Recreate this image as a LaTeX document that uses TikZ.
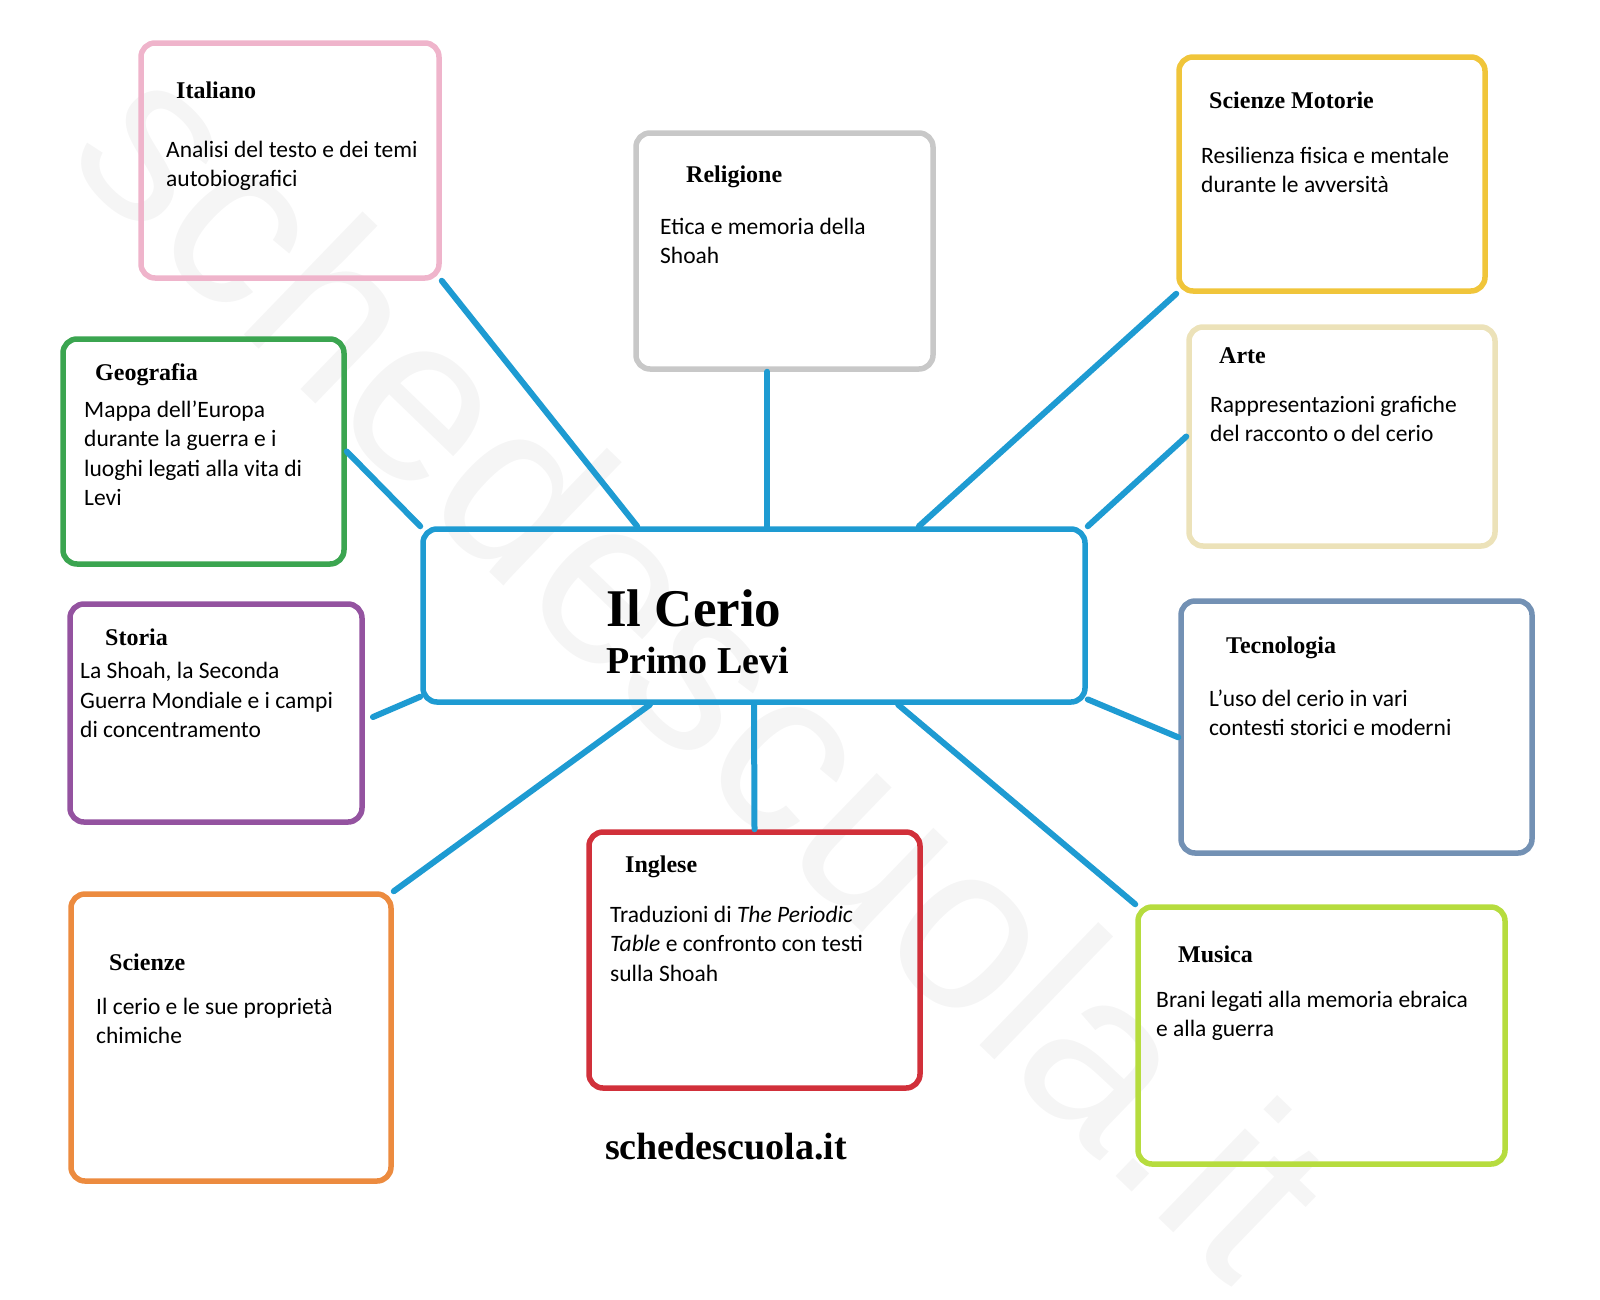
\documentclass[tikz,border=0pt]{standalone}
\usepackage{fontspec}
\setmainfont{Liberation Serif}
\newfontfamily\bodyfont{Carlito}
\newfontfamily\wmfont{Liberation Sans}
\usetikzlibrary{calc}

\definecolor{linkblue}{HTML}{1E9BD2}
\definecolor{pinkc}{HTML}{EFB4CB}
\definecolor{grayc}{HTML}{C8C8C8}
\definecolor{goldc}{HTML}{F0C53A}
\definecolor{greenc}{HTML}{3BA550}
\definecolor{creamc}{HTML}{ECE2B9}
\definecolor{purplec}{HTML}{9453A0}
\definecolor{slatec}{HTML}{7391B4}
\definecolor{orangec}{HTML}{EC8B3F}
\definecolor{redc}{HTML}{D1303A}
\definecolor{limec}{HTML}{B6DC3E}

\tikzset{
	box/.style={rectangle, rounded corners=14pt, line width=5.5pt, draw=#1},
	head/.style={anchor=base west, inner sep=0pt, font=\fontsize{24}{28}\selectfont\bfseries},
	body/.style={anchor=base west, inner sep=0pt, align=left, font=\bodyfont\fontsize{23.5}{29.6}\selectfont},
	link/.style={draw=linkblue, line width=6pt, line cap=round},
	wmark/.style={font=\wmfont\fontsize{236}{236}\selectfont, text=black!4, rotate=-44}
}

\begin{document}
\begin{tikzpicture}[x=1pt,y=-1pt]
		
		\useasboundingbox (0,0) rectangle (1600,1299);
		
		% watermark
		
		\node[wmark] 
		(wm) at (706,664) {schedescuola.it};
		
		% Node
		
		\node[box=linkblue, minimum width=662pt, minimum height=173pt] 
		(cerio) at (754,615.5) {};
		
		\node[box=pinkc, minimum width=298pt, minimum height=235pt] 
		(ital) at (290,160.5) {};
		\node[box=grayc, minimum width=297pt, minimum height=236pt] 
		(rel) at (784.5,251) {};
		\node[box=goldc, minimum width=306pt, minimum height=234pt] 
		(mot) at (1332,174) {};
		\node[box=greenc, minimum width=281pt, minimum height=225pt] 
		(geo) at (203.5,451.5) {};
		\node[box=creamc, minimum width=306pt, minimum height=219pt] 
		(arte) at (1342,436.5) {};
		\node[box=purplec, minimum width=292pt, minimum height=218pt] 
		(sto) at (216,713) {};
		\node[box=slatec, minimum width=351pt, minimum height=252pt] 
		(tec) at (1356.5,727) {};
		\node[box=orangec, minimum width=320pt, minimum height=287pt] 
		(sci) at (231,1037.5) {};
		\node[box=redc, minimum width=331pt, minimum height=256pt] 
		(ingl) at (754.5,960) {};
		\node[box=limec, minimum width=367pt, minimum height=257pt] 
		(mus) at (1321.5,1035.5) {};
		
		% Text (body nodes sit on their last baseline)
		
		\node[anchor=base west, inner sep=0pt, font=\fontsize{53}{60}\selectfont\bfseries] 
		(titleA) at (606,626) {Il Cerio};
		\node[anchor=base west, inner sep=0pt, font=\fontsize{38}{44}\selectfont\bfseries] 
		(titleB) at (606,673) {Primo Levi};
		
		\node[head] (italH) at (176,98) {Italiano};
		\node[body] (italB) at (166,186.6) {Analisi del testo e dei temi\\autobiografici};
		
		\node[head] (relH) at (686,182) {Religione};
		\node[body] (relB) at (660,263.6) {Etica e memoria della\\Shoah};
		
		\node[head] (motH) at (1209,108) {Scienze Motorie};
		\node[body] (motB) at (1201,192.6) {Resilienza fisica e mentale\\durante le avversità};
		
		\node[head] (geoH) at (95,380) {Geografia};
		\node[body] (geoB) at (84,505.8) {Mappa dell’Europa\\durante la guerra e i\\luoghi legati alla vita di\\Levi};
		
		\node[head] (arteH) at (1219,363) {Arte};
		\node[body] (arteB) at (1210,441.6) {Rappresentazioni grafiche\\del racconto o del cerio};
		
		\node[head] (stoH) at (105,645) {Storia};
		\node[body] (stoB) at (80,737.7) {La Shoah, la Seconda\\Guerra Mondiale e i campi\\di concentramento};
		
		\node[head] (tecH) at (1226,653) {Tecnologia};
		\node[body] (tecB) at (1209,735.6) {L’uso del cerio in vari\\contesti storici e moderni};
		
		\node[head] (sciH) at (109,970) {Scienze};
		\node[body] (sciB) at (96,1043.6) {Il cerio e le sue proprietà\\chimiche};
		
		\node[head] (inglH) at (625,872) {Inglese};
		\node[body] (inglB) at (610,981.2) {Traduzioni di \textit{The Periodic}\\\textit{Table} e confronto con testi\\sulla Shoah};
		
		\node[head] (musH) at (1178,962) {Musica};
		\node[body] (musB) at (1156,1036.6) {Brani legati alla memoria ebraica\\e alla guerra};
		
		\node[anchor=base west, inner sep=0pt, font=\fontsize{38}{44}\selectfont\bfseries] 
		(site) at (605,1159) {schedescuola.it};
		
		% EDGE
		
		\coordinate (cT1) at ($(cerio.north west)!0.325!(cerio.north east)$);
		\coordinate (cT2) at ($(cerio.north west)!0.52!(cerio.north east)$);
		\coordinate (cT3) at ($(cerio.north west)!0.747!(cerio.north east)$);
		\coordinate (cB1) at ($(cerio.south west)!0.344!(cerio.south east)$);
		\coordinate (cB2) at ($(cerio.south west)!0.716!(cerio.south east)$);
		\coordinate (cL1) at ($(cerio.north west)!0.955!(cerio.south west)$);
		\coordinate (cR1) at ($(cerio.north east)!0.97!(cerio.south east)$);
		\coordinate (tecW) at ($(tec.north west)!0.54!(tec.south west)$);
		\coordinate (stoGap) at (373,717);
		
		\draw[link] (ital.south east) -- (cT1);
		\draw[link] (cT2 |- rel.south) -- (cT2);
		\draw[link] (mot.south west) -- (cT3);
		\draw[link] (geo.east) -- (cerio.north west);
		\draw[link] (arte.west) -- (cerio.north east);
		\draw[link] (stoGap) -- (cL1);
		\draw[link] (cR1) -- (tecW);
		\draw[link] (sci.north east) -- (cB1);
		\draw[link] (cerio.south) -- (ingl.north);
		\draw[link] (cB2) -- (mus.north west);
		
\end{tikzpicture}
\end{document}
